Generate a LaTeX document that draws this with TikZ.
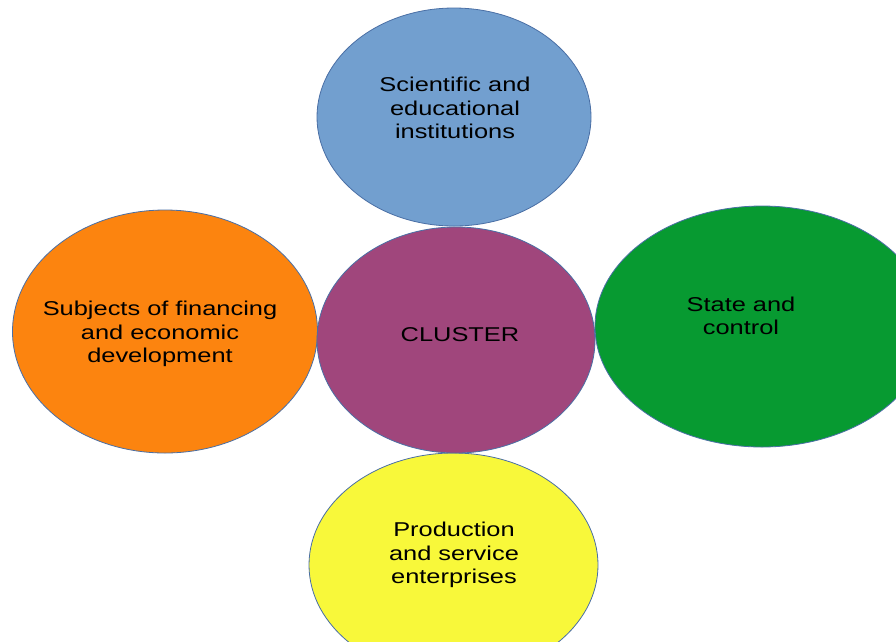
\documentclass[tikz,border=0pt]{standalone}
\usepackage{fontspec}
\newfontfamily\lblfont[FakeStretch=1.27]{Liberation Sans}
\usetikzlibrary{shapes.geometric}
\definecolor{cblue}{HTML}{729FCF}
\definecolor{cpurple}{HTML}{A0467C}
\definecolor{cgreen}{HTML}{079A31}
\definecolor{corange}{HTML}{FC840F}
\definecolor{cyellow}{HTML}{F8F83A}
\definecolor{cedge}{HTML}{4A6FA5}
\tikzset{
  blob/.style={ellipse, draw=cedge, line width=0.8pt, inner sep=0pt},
  lbl/.style={align=center, font=\lblfont\fontsize{20}{23.5}\selectfont, text=black, inner sep=0pt}
}
\begin{document}
\begin{tikzpicture}[x=1pt,y=-1pt]
\clip (0,0) rectangle (896,641);
\fill[white] (0,0) rectangle (896,641);
\node[blob, fill=cblue, minimum width=274pt, minimum height=218pt] (top) at (454,117) {};
\node[blob, fill=corange, minimum width=305pt, minimum height=243pt] (left) at (165,331.5) {};
\node[blob, fill=cgreen, minimum width=334pt, minimum height=241pt] (right) at (762,326.5) {};
\node[blob, fill=cyellow, minimum width=289pt, minimum height=224pt] (bottom) at (453.5,565) {};
\node[blob, fill=cpurple, minimum width=278pt, minimum height=226pt] (center) at (456,340) {};
\node[lbl] (ttop) at (455,108) {Scientific and\\educational\\institutions};
\node[lbl] (tleft) at (160,334) {Subjects of financing\\and economic\\development};
\node[lbl] (tcenter) at (460,335) {CLUSTER};
\node[lbl] (tright) at (741,316) {State and\\control};
\node[lbl] (tbottom) at (454,555) {Production\\and service\\enterprises};
\end{tikzpicture}
\end{document}
